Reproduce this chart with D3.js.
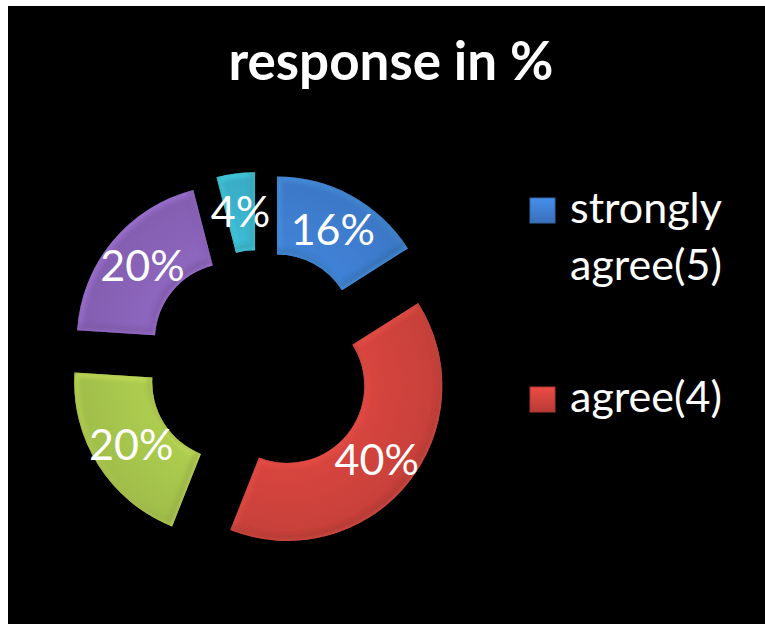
<!DOCTYPE html>
<html><head><meta charset="utf-8">
<script src="https://cdn.jsdelivr.net/npm/d3@7"></script>
<style>html,body{margin:0;padding:0;background:#fff;}svg{display:block;}</style>
</head><body>
<script>
const categories = ["strongly agree(5)", "agree(4)", "neutral(3)", "disagree(2)", "strongly disagree(1)"];
const values = [16, 40, 20, 20, 4];
const labels = ["16%", "40%", "20%", "20%", "4%"];
const colors = ["#3f7ed0", "#d1433d", "#a8c74d", "#8a63b9", "#3cb4cf"];
const legendShown = 2;
const title = "response in %";

const W = 765, H = 624;
const svg = d3.select("body").append("svg").attr("width", W).attr("height", H);
svg.append("rect").attr("x", 8).attr("y", 6).attr("width", W - 8).attr("height", H - 6).attr("fill", "#000");

const defs = svg.append("defs");
const blur = defs.append("filter").attr("id", "soft").attr("x", "-20%").attr("y", "-20%").attr("width", "140%").attr("height", "140%");
blur.append("feGaussianBlur").attr("stdDeviation", 2.5);

const cx = 259.6, cy = 363, R = 155, r = 77, explode = 36;
const pie = d3.pie().sort(null).value(d => d)(values);
const arc = d3.arc().innerRadius(r).outerRadius(R);
const labelArc = d3.arc().innerRadius((R + r) / 2).outerRadius((R + r) / 2);

const g = svg.append("g").attr("transform", `translate(${cx},${cy})`);
pie.forEach((p, i) => {
  const mid = (p.startAngle + p.endAngle) / 2;
  const ox = Math.sin(mid) * explode, oy = -Math.cos(mid) * explode;
  const gg = g.append("g").attr("transform", `translate(${ox},${oy})`);
  const c = d3.color(colors[i]);
  const grad = defs.append("radialGradient").attr("id", "grad" + i)
    .attr("gradientUnits", "userSpaceOnUse").attr("cx", 0).attr("cy", 0).attr("r", R);
  grad.append("stop").attr("offset", "50%").attr("stop-color", c.brighter(0.1));
  grad.append("stop").attr("offset", "100%").attr("stop-color", c.darker(0.15));
  const d = arc(p);
  defs.append("clipPath").attr("id", "clip" + i).append("path").attr("d", d);
  gg.append("path").attr("d", d).attr("fill", `url(#grad${i})`);
  const bev = gg.append("g").attr("clip-path", `url(#clip${i})`);
  // highlight edge
  bev.append("path").attr("d", d).attr("fill", "none").attr("stroke", c.brighter(0.9))
    .attr("stroke-width", 7).attr("stroke-opacity", 0.55).attr("filter", "url(#soft)");
  // shadow edge offset down
  bev.append("path").attr("d", d).attr("transform", "translate(-2,-3)").attr("fill", "none").attr("stroke", c.darker(1.2))
    .attr("stroke-width", 6).attr("stroke-opacity", 0.45).attr("filter", "url(#soft)");
  const [lx, ly] = labelArc.centroid(p);
  gg.append("text").attr("class", "lbl").attr("x", lx).attr("y", ly).attr("dy", "0.35em")
    .attr("text-anchor", "middle").attr("fill", "#fff").text(labels[i]);
});

const fontFam = "Lato, 'Open Sans', sans-serif";
// Title
const t = svg.append("text").attr("x", 391).attr("y", 80).attr("text-anchor", "middle")
  .attr("fill", "#fff").attr("font-family", fontFam).attr("font-weight", "bold").attr("font-size", 56).text(title);
const tw = t.node().getComputedTextLength();
t.attr("font-size", 56 * 325 / tw);

// Legend
const leg = svg.append("g");
const legY = [198, 387];
const legLines = [["strongly", "agree(5)"], ["agree(4)"]];
for (let i = 0; i < legendShown; i++) {
  const c = d3.color(colors[i]);
  const lg = defs.append("linearGradient").attr("id", "lg" + i).attr("x1", 0).attr("y1", 0).attr("x2", 0).attr("y2", 1);
  lg.append("stop").attr("offset", "0%").attr("stop-color", c.brighter(0.35));
  lg.append("stop").attr("offset", "100%").attr("stop-color", c.darker(0.35));
  leg.append("rect").attr("x", 530).attr("y", legY[i]).attr("width", 25).attr("height", 25)
    .attr("fill", `url(#lg${i})`).attr("stroke", c.darker(0.6)).attr("stroke-width", 1);
  legLines[i].forEach((ln, j) => {
    leg.append("text").attr("class", "legt").attr("x", 570).attr("y", legY[i] + 25 + j * 57)
      .attr("fill", "#fff").text(ln);
  });
}
const probe = svg.append("text").attr("font-family", fontFam).attr("font-size", 40).text("strongly");
const pw = probe.node().getComputedTextLength();
probe.remove();
const fs = 40 * 152 / pw;
svg.selectAll(".legt").attr("font-family", fontFam).attr("font-size", fs);
svg.selectAll(".lbl").attr("font-family", fontFam).attr("font-size", fs);
</script>
</body></html>
